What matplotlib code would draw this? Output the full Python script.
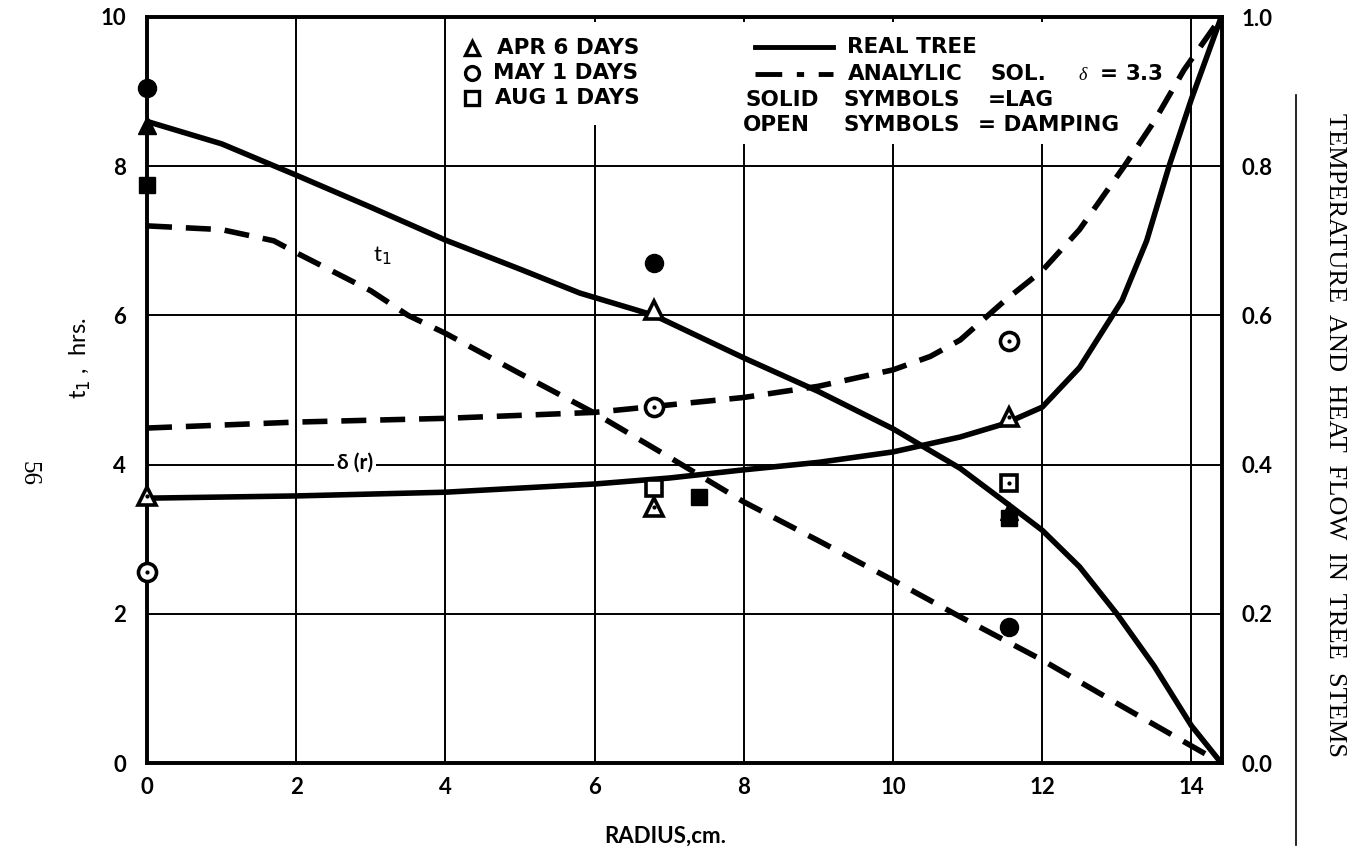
import numpy as np
import matplotlib.pyplot as plt
from matplotlib.patches import Rectangle
from matplotlib.lines import Line2D

plt.rcParams['font.family'] = ['Lato', 'DejaVu Sans']

# curves (radius in cm)
r_t1_real = [0, 1, 2, 3, 4, 5, 5.8, 6.8, 8, 9, 10, 10.9, 11.5, 12, 12.5, 13, 13.5, 14, 14.4]
t1_real = [8.6, 8.3, 7.88, 7.45, 7.01, 6.62, 6.3, 6.0, 5.43, 4.98, 4.48, 3.95, 3.5, 3.12, 2.63, 2.0, 1.3, 0.5, 0.0]

r_t1_anal = [0, 1, 1.7, 2, 3, 3.5, 4, 5, 6, 7, 8, 9, 10, 10.9, 12, 13, 14.4]
t1_anal = [7.2, 7.15, 7.0, 6.84, 6.33, 6.0, 5.76, 5.22, 4.69, 4.1, 3.5, 2.98, 2.45, 1.96, 1.38, 0.8, 0.0]

# damping ratio, right axis
r_d_real = [0, 2, 4, 6, 7, 8, 9, 10, 10.9, 11.5, 12, 12.5, 13.07, 13.4, 13.7, 14.0, 14.4]
d_real = [0.355, 0.358, 0.363, 0.374, 0.382, 0.393, 0.403, 0.417, 0.437, 0.455, 0.477, 0.53, 0.62, 0.7, 0.8, 0.89, 1.0]

r_d_anal = [0, 2, 4, 6, 7, 8, 9, 10, 10.5, 10.9, 11.5, 12, 12.5, 13.1, 13.5, 13.9, 14.4]
d_anal = [0.449, 0.457, 0.462, 0.47, 0.48, 0.49, 0.505, 0.527, 0.545, 0.567, 0.62, 0.66, 0.715, 0.8, 0.86, 0.929, 1.0]

# measured points: solid = lag (left axis, hrs), open = damping (right axis)
apr_lag_r, apr_lag = [0, 11.56], [8.55, 3.38]
may_lag_r, may_lag = [0, 6.8, 11.56], [9.05, 6.7, 1.82]
aug_lag_r, aug_lag = [0, 7.4, 11.56], [7.75, 3.57, 3.28]

apr_damp_r, apr_damp = [0, 6.8, 6.8, 11.56], [0.358, 0.607, 0.343, 0.464]
may_damp_r, may_damp = [0, 6.8, 11.56], [0.256, 0.477, 0.566]
aug_damp_r, aug_damp = [6.8, 11.56], [0.369, 0.375]
dotted_r = [0, 6.8, 0, 6.8, 11.56, 11.56, 11.56]
dotted_v = [0.358, 0.343, 0.256, 0.477, 0.566, 0.464, 0.375]

x_ticks = [0, 2, 4, 6, 8, 10, 12, 14]
y_ticks = [0, 2, 4, 6, 8, 10]
y2_ticks = [0.0, 0.2, 0.4, 0.6, 0.8, 1.0]
y2_labels = ['0.0', '0.2', '0.4', '0.6', '0.8', '1.0']

fig = plt.figure(figsize=(13.65, 8.58), dpi=100)
ax = fig.add_axes([147 / 1365, 95 / 858, 1075 / 1365, 746 / 858])
ax.set_xlim(0, 14.41)
ax.set_ylim(0, 10)
ax.set_xticks(x_ticks)
ax.set_yticks(y_ticks)
ax.grid(True, color='black', linewidth=1.4)
ax.tick_params(length=0, labelsize=16, pad=10)
ax.tick_params(axis='y', pad=15)
for lab in ax.get_xticklabels() + ax.get_yticklabels():
    lab.set_fontweight('bold')
for s in ax.spines.values():
    s.set_linewidth(2.6)

ax2 = ax.twinx()
ax2.set_ylim(0, 1)
ax2.set_yticks(y2_ticks)
ax2.set_yticklabels(y2_labels)
ax2.tick_params(length=0, labelsize=16, pad=14)
for lab in ax2.get_yticklabels():
    lab.set_fontweight('bold')
for s in ax2.spines.values():
    s.set_linewidth(2.6)

lw = 4
ax.plot(r_t1_real, t1_real, color='black', lw=lw, solid_joinstyle='round', zorder=3)
ax.plot(r_t1_anal, t1_anal, color='black', lw=lw, dashes=(4.5, 2.5), zorder=3)
ax2.plot(r_d_real, d_real, color='black', lw=lw, solid_joinstyle='round', zorder=3)
ax2.plot(r_d_anal, d_anal, color='black', lw=lw, dashes=(4.5, 2.5), zorder=3)

ms = 13
ax.plot(apr_lag_r, apr_lag, '^', color='black', ms=ms, ls='none', zorder=4, clip_on=False)
ax.plot(may_lag_r, may_lag, 'o', color='black', ms=ms, ls='none', zorder=4, clip_on=False)
ax.plot(aug_lag_r, aug_lag, 's', color='black', ms=ms - 2, ls='none', zorder=4, clip_on=False)
ax2.plot(apr_damp_r, apr_damp, '^', mfc='white', mec='black', mew=2.6, ms=ms, ls='none', zorder=4, clip_on=False)
ax2.plot(may_damp_r, may_damp, 'o', mfc='white', mec='black', mew=2.6, ms=ms, ls='none', zorder=4, clip_on=False)
ax2.plot(aug_damp_r, aug_damp, 's', mfc='white', mec='black', mew=2.6, ms=ms - 2, ls='none', zorder=4,
         clip_on=False)
ax2.plot(dotted_r, dotted_v, '.', color='black', ms=4, ls='none', zorder=5, clip_on=False)

# white gaps in the grid behind the key
ax.add_patch(Rectangle((4.1, 8.55), 2.75, 1.38, facecolor='white', edgecolor='none', zorder=1.8))
ax.add_patch(Rectangle((7.8, 8.3), 4.55, 1.63, facecolor='white', edgecolor='none', zorder=1.8))


def px(x):
    return (x - 147) / 74.6


kfs = 15.5
key_words = [
    (9.58, [(497, 'APR 6 DAYS')]),
    (9.25, [(493, 'MAY 1 DAYS')]),
    (8.91, [(495, 'AUG 1 DAYS')]),
    (9.60, [(847, 'REAL TREE')]),
    (9.24, [(848, 'ANALYLIC'), (990, 'SOL.'), (1100, '='), (1126, '3.3')]),
    (8.89, [(745, 'SOLID'), (843, 'SYMBOLS'), (988, '=LAG')]),
    (8.55, [(743, 'OPEN'), (843, 'SYMBOLS'), (978, '= DAMPING')]),
]
for yk, words in key_words:
    for xp, w in words:
        ax.text(px(xp), yk, w, fontsize=kfs, fontweight='bold', family='DejaVu Sans',
                va='center', ha='left', zorder=5)

for yk, mk in [(9.58, '^'), (9.25, 'o'), (8.91, 's')]:
    ax.plot([px(472)], [yk], mk, mfc='white', mec='black', mew=2.4, ms=10, zorder=4)

ax.plot([px(755), px(833)], [9.6, 9.6], color='black', lw=3.5, zorder=4)
ax.plot([px(755), px(833)], [9.24, 9.24], color='black', lw=3.5, dashes=(5.5, 3, 1.5, 3), zorder=4)
ax.text(px(1078), 9.22, 'δ', fontsize=13, style='italic', va='center', ha='left', zorder=5,
        family='Liberation Serif')

ax.text(3.16, 6.8, 't$_1$', fontsize=16, va='center', ha='center', zorder=5)
ax.text(2.79, 4.03, 'δ (r)', fontsize=15, fontweight='bold', va='center', ha='center', zorder=5,
        bbox=dict(facecolor='white', edgecolor='none', pad=2))

fig.text(665 / 1365, 1 - 836 / 858, 'RADIUS,cm.', fontsize=16, fontweight='bold', ha='center', va='center')
fig.text(80 / 1365, 1 - 358 / 858, 't$_1$ ,  hrs.', fontsize=17, rotation=90, ha='center', va='center')
fig.text(28 / 1365, 1 - 473 / 858, '56', fontsize=18, rotation=-90, ha='center', va='center',
         family='Liberation Serif')
fig.add_artist(Line2D([1296 / 1365, 1296 / 1365], [1 - 845 / 858, 1 - 95 / 858],
                      color='black', lw=1.2, transform=fig.transFigure))
fig.text(1335 / 1365, 1 - 435 / 858, 'TEMPERATURE  AND  HEAT  FLOW  IN  TREE  STEMS', fontsize=19,
         rotation=-90, ha='center', va='center', family='Liberation Serif')

fig.savefig('out.png', dpi=100)
